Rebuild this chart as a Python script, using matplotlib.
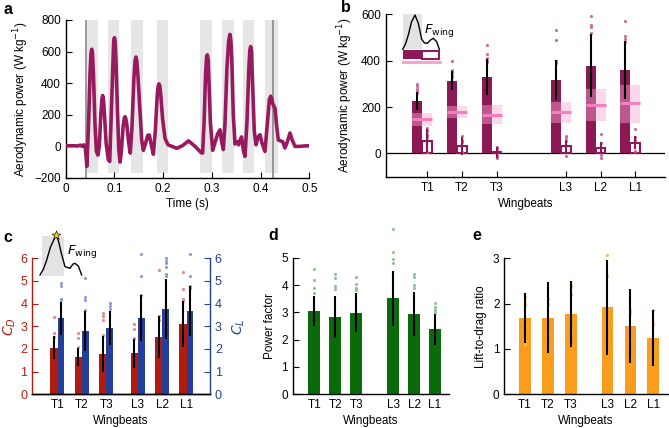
import numpy as np
import matplotlib
matplotlib.use("Agg")
from matplotlib import pyplot as plt
from matplotlib.patches import Rectangle

plt.rcParams["font.family"] = ["Liberation Sans", "DejaVu Sans"]
plt.rcParams["font.size"] = 8.5
plt.rcParams["axes.linewidth"] = 1.0
plt.rcParams["xtick.direction"] = "in"
plt.rcParams["ytick.direction"] = "in"
plt.rcParams["xtick.major.size"] = 4
plt.rcParams["ytick.major.size"] = 4

W, H = 669, 428

# ---- panel a: power trace ----
time_s = [0, 0.015, 0.025, 0.030, 0.034, 0.037, 0.040, 0.0435, 0.047, 0.050, 0.052, 0.0534,
          0.055, 0.057, 0.060, 0.063, 0.066, 0.069, 0.072, 0.0745, 0.0759, 0.0775, 0.079,
          0.083, 0.0875, 0.0903, 0.094, 0.097, 0.0985, 0.100, 0.1015, 0.103, 0.106, 0.109,
          0.1115, 0.114, 0.118, 0.1205, 0.1218, 0.123, 0.125, 0.129, 0.1325, 0.136, 0.140,
          0.1425, 0.1443, 0.146, 0.148, 0.152, 0.156, 0.1594, 0.163, 0.1685, 0.1717, 0.175,
          0.180, 0.184, 0.188, 0.190, 0.1915, 0.193, 0.195, 0.199, 0.204, 0.210, 0.218,
          0.228, 0.240, 0.252, 0.258, 0.2655, 0.272, 0.278, 0.281, 0.284, 0.287, 0.289,
          0.2907, 0.2925, 0.294, 0.297, 0.3017, 0.306, 0.312, 0.3167, 0.320, 0.3236, 0.327,
          0.331, 0.3345, 0.3372, 0.339, 0.341, 0.344, 0.3475, 0.352, 0.355, 0.358, 0.361,
          0.365, 0.368, 0.372, 0.376, 0.378, 0.3797, 0.3815, 0.383, 0.387, 0.3906, 0.395,
          0.3988, 0.403, 0.409, 0.414, 0.418, 0.4207, 0.423, 0.425, 0.4296, 0.433, 0.4364,
          0.4454, 0.450, 0.455, 0.4603, 0.465, 0.4706, 0.480, 0.490, 0.500]
power_w = [4, 4, 3, 8, 0, 10, 0, -126, 150, 470, 590, 615,
           590, 450, 150, -30, -55, 0, 200, 305, 322, 300, 230,
           20, -85, -95, 250, 550, 665, 688, 665, 560, 250, -20,
           -100, -40, 130, 182, 188, 180, 150, 30, -42, 120, 430,
           545, 566, 540, 460, 250, 40, -25, 10, 70, 72, 20,
           -50, 100, 330, 385, 396, 385, 330, 170, 50, 10, 0,
           -12, 5, 35, 20, 0, -20, -40, -42, 150, 450, 560,
           580, 550, 420, 150, -25, 20, 80, 105, 30, -20, 150,
           500, 670, 709, 670, 540, 200, 15, 30, 10, 40, 60,
           -30, -63, 150, 500, 610, 632, 600, 450, 100, 10, 60,
           74, 20, -32, 150, 295, 318, 300, 270, 240, 130, 40,
           30, -10, 30, 85, 40, 0, 0, 3, 4]
stroke_start = [0.0445, 0.0862, 0.134, 0.188, 0.276, 0.321, 0.363, 0.410]
stroke_end = [0.0657, 0.110, 0.158, 0.211, 0.300, 0.346, 0.386, 0.435]
trial_marks = [0.042, 0.426]

# ---- shared categories ----
wingbeats = ["T1", "T2", "T3", "L3", "L2", "L1"]

# ---- panel b ----
power_total = [225, 314, 329, 317, 379, 360]
power_total_err = [38, 42, 78, 88, 134, 124]
power_mid = [147, 180, 166, 181, 210, 217]
power_mid_lo = [119, 154, 126, 133, 140, 133]
power_mid_hi = [176, 204, 207, 224, 279, 297]
power_end = [54, 33, 5, 33, 24, 47]
power_end_err = [50, 40, 25, 25, 25, 28]
power_total_dots = [[298, 290, 280, 270, 262], [398, 360, 350, 340, 330],
                    [466, 430, 410, 400, 395], [532, 490, 400, 390],
                    [592, 555, 545, 520], [572, 505, 495, 480]]
power_end_dots = [[110, 95, 80, 70, 5], [75, 60, 50, 5], [30, 20, -10, -20],
                  [75, 65, 55, -10], [85, 45, -5, -20], [105, 70, 60, 10]]

# ---- panel c ----
cd = [2.06, 1.65, 1.78, 1.81, 2.53, 3.10]
cd_err = [0.5, 0.4, 0.8, 0.65, 0.92, 1.0]
cl = [3.35, 2.78, 2.94, 3.37, 3.76, 3.66]
cl_err = [0.72, 0.88, 0.75, 1.02, 1.33, 1.1]
cd_dots = [[3.4, 2.7, 2.55], [2.7, 2.5, 2.1], [3.6, 3.45, 3.3, 2.6],
           [3.1, 2.9, 2.5], [5.5, 3.45, 3.3], [5.4, 4.65, 4.2, 4.1]]
cl_dots = [[4.9, 4.8, 4.2, 4.15], [5.15, 4.3, 4.15, 3.7], [4.05, 3.9, 3.75],
           [6.2, 5.2, 4.4], [6.0, 5.9, 5.8, 5.6, 5.3, 5.2], [6.2, 5.2, 4.8, 4.7]]

# ---- panel d ----
power_factor = [3.05, 2.82, 2.99, 3.51, 2.93, 2.38]
power_factor_err = [0.55, 0.76, 0.7, 1.0, 0.8, 0.56]
power_factor_dots = [[4.6, 4.2, 3.9, 3.7], [4.4, 4.25, 3.95, 3.85], [4.3, 4.05, 3.9, 3.8],
                     [6.05, 5.2, 4.95, 4.8], [4.4, 4.3, 4.0, 3.9], [3.35, 3.2, 3.1, 3.0]]

# ---- panel e ----
lift_drag = [1.68, 1.69, 1.77, 1.92, 1.51, 1.24]
lift_drag_err = [0.55, 0.78, 0.72, 1.05, 0.82, 0.62]
lift_drag_dots = [[2.15, 2.0, 1.5, 1.2, 1.1], [2.1, 2.0, 1.3, 1.0], [2.4, 2.2, 1.4, 1.1],
                  [3.08, 2.6, 1.6, 1.0], [1.85, 1.8, 1.2, 0.8], [1.87, 1.55, 1.0, 0.7]]

MAGENTA = "#981a5e"
DARK = "#8c1856"
PINK = "#f57ebf"
PINK_BOX = "#f7a8d2"
RED = "#b21c0e"
BLUE = "#233f9b"
GREEN = "#0b6b0b"
ORANGE = "#fb9d1c"


def px_axes(fig, left, top, right, bottom):
    return fig.add_axes([left / W, 1 - bottom / H, (right - left) / W, (bottom - top) / H])


def clean(ax, right=False):
    ax.spines["top"].set_visible(False)
    if not right:
        ax.spines["right"].set_visible(False)


def dots(ax, xs, groups, color, size=5):
    for x, vals in zip(xs, groups):
        ax.scatter([x] * len(vals), vals, s=size, color=color, lw=0, zorder=4, clip_on=False)


fig = plt.figure(figsize=(W / 100, H / 100), dpi=100)

# ================= a =================
ax = px_axes(fig, 65.7, 20, 309.3, 178)
for s, e in zip(stroke_start, stroke_end):
    ax.axvspan(s, e, ymin=0.03, ymax=1, color="#e6e6e6", lw=0, zorder=0)
for t in trial_marks:
    ax.axvline(t, color="#808080", lw=1.1, zorder=1)
ax.plot(time_s, power_w, color=MAGENTA, lw=2.6, solid_joinstyle="round", zorder=3)
ax.set_xlim(0, 0.5)
ax.set_ylim(-200, 800)
ax.set_xticks([0, 0.1, 0.2, 0.3, 0.4, 0.5])
ax.set_xticklabels(["0", "0.1", "0.2", "0.3", "0.4", "0.5"])
ax.set_yticks(range(-200, 801, 200))
ax.set_xlabel("Time (s)", labelpad=2)
ax.set_ylabel("Aerodynamic power (W kg$^{-1}$)", labelpad=2)
clean(ax)

# ================= b =================
ax = px_axes(fig, 385.7, 14.3, 665, 176.7)
pos_b = np.array([1, 2, 3, 5, 6, 7])
ax.bar(pos_b - 0.285, power_total, width=0.29, color=DARK, zorder=2)
ax.errorbar(pos_b - 0.285, power_total, yerr=power_total_err, fmt="none",
            ecolor="black", elinewidth=1.5, zorder=5)
dots(ax, pos_b - 0.285, power_total_dots, "#c76a9e", 5)
mid_lo = np.array(power_mid_lo)
ax.bar(pos_b - 0.43, np.array(power_mid_hi) - mid_lo, bottom=mid_lo, width=0.575,
       align="edge", color=PINK_BOX, alpha=0.45, lw=0, zorder=3)
ax.hlines(power_mid, pos_b - 0.43, pos_b + 0.145, color=PINK, lw=2.2, zorder=4)
ax.bar(pos_b, power_end, width=0.28, facecolor="white", edgecolor=DARK, lw=1.5, zorder=2)
ax.errorbar(pos_b, power_end, yerr=power_end_err, fmt="none",
            ecolor=DARK, elinewidth=1.5, zorder=5)
dots(ax, pos_b, power_end_dots, "#c76a9e", 5)
ax.axhline(0, color="black", lw=0.9, zorder=1)
ax.set_xlim(-0.2, 7.86)
ax.set_ylim(-100, 600)
ax.set_yticks([0, 200, 400, 600])
ax.set_xticks(pos_b)
ax.set_xticklabels(wingbeats)
ax.set_xlabel("Wingbeats", labelpad=3)
ax.set_ylabel("Aerodynamic power (W kg$^{-1}$)", labelpad=4)
clean(ax)

# inset legend for b, drawn in pixel coords
ins = px_axes(fig, 398, 10, 450, 68)
ins.set_xlim(398, 450)
ins.set_ylim(68, 10)
ins.axis("off")
ins.add_patch(Rectangle((403.3, 14.3), 18.4, 35, color="#e3e3e3", lw=0))
force_x = [402.7, 405.5, 408.3, 411.5, 415, 418.3, 421.7, 424.5, 427.3, 430.5, 433.3, 436.7, 439.3]
force_y = [49.3, 44, 35, 22, 15, 23.3, 39.3, 43, 43.3, 40, 38.3, 41.7, 49.3]
ins.plot(force_x, force_y, color="black", lw=1.0)
ins.text(424, 31, "$F_\\mathrm{wing}$", fontsize=9.5, va="center", ha="left")
ins.add_patch(Rectangle((402.7, 50), 19, 9.3, color=DARK, lw=0))
ins.add_patch(Rectangle((421.7, 50.6), 17.4, 8.1, facecolor="white", edgecolor=DARK, lw=1.4))
ins.plot([402.7, 440], [62, 62], color="#f9a3d0", lw=2.2)

# ================= c =================
ax = px_axes(fig, 32.3, 258.3, 210, 394.3)
pos_c = np.array([0, 1, 2, 3.3, 4.3, 5.3])
ax.bar(pos_c - 0.15, cd, width=0.3, color=RED, zorder=2)
ax.errorbar(pos_c - 0.15, cd, yerr=cd_err, fmt="none", ecolor="black", elinewidth=1.5, zorder=5)
dots(ax, pos_c - 0.15, cd_dots, "#e08a82", 5)
ax.set_xlim(-1.04, 6.26)
ax.set_ylim(0, 6)
ax.set_yticks(range(0, 7))
ax.set_xticks(pos_c)
ax.set_xticklabels(wingbeats)
ax.set_xlabel("Wingbeats", labelpad=3)
ax.set_ylabel("$C_D$", color=RED, fontsize=10, labelpad=2)
ax.tick_params(axis="y", colors=RED, labelsize=9)
ax.spines["left"].set_color(RED)
ax.spines["top"].set_visible(False)
ax.spines["right"].set_visible(False)
ax2 = ax.twinx()
ax2.bar(pos_c + 0.14, cl, width=0.28, color=BLUE, zorder=2)
ax2.errorbar(pos_c + 0.14, cl, yerr=cl_err, fmt="none", ecolor="black", elinewidth=1.5, zorder=5)
dots(ax2, pos_c + 0.14, cl_dots, "#8d9bd3", 5)
ax2.set_ylim(0, 6)
ax2.set_yticks(range(0, 7))
ax2.set_ylabel("$C_L$", color=BLUE, fontsize=10, labelpad=6)
ax2.tick_params(axis="y", colors=BLUE, labelsize=9)
ax2.spines["right"].set_color(BLUE)
ax2.spines["left"].set_visible(False)
ax2.spines["top"].set_visible(False)

ins = px_axes(fig, 36, 228, 90, 280)
ins.set_xlim(36, 90)
ins.set_ylim(280, 228)
ins.axis("off")
ins.add_patch(Rectangle((41.7, 236), 22.3, 39.7, color="#e3e3e3", lw=0))
peak_x = [40, 43.5, 46.7, 50.5, 56, 58.5, 61, 65, 70, 73, 75, 78.3, 81.7]
peak_y = [275, 269, 260, 247, 235, 241, 252, 266.7, 268.3, 264, 263.3, 266, 275]
ins.plot(peak_x, peak_y, color="black", lw=1.0)
ins.scatter([peak_x[4]], [peak_y[4]], marker="*", s=45, color="#f5d21c",
            edgecolor="black", lw=0.4, zorder=5)
ins.text(67, 252, "$F_\\mathrm{wing}$", fontsize=9.5, va="center", ha="left")

# ================= d =================
ax = px_axes(fig, 292.7, 257.7, 449.3, 394.3)
pos_d = np.array([0, 1, 2, 3.75, 4.75, 5.75])
ax.bar(pos_d, power_factor, width=0.56, color=GREEN, zorder=2)
ax.errorbar(pos_d, power_factor, yerr=power_factor_err, fmt="none",
            ecolor="black", elinewidth=1.5, zorder=5)
dots(ax, pos_d, power_factor_dots, "#8fc08f", 5)
ax.set_xlim(-1.03, 6.43)
ax.set_ylim(0, 5)
ax.set_xticks(pos_d)
ax.set_xticklabels(wingbeats)
ax.set_xlabel("Wingbeats", labelpad=3)
ax.set_ylabel("Power factor", labelpad=4)
clean(ax)

# ================= e =================
ax = px_axes(fig, 504.3, 258.3, 668, 394.3)
pos_e = np.array([0, 1, 2, 3.6, 4.6, 5.6])
ax.bar(pos_e, lift_drag, width=0.51, color=ORANGE, zorder=2)
ax.errorbar(pos_e, lift_drag, yerr=lift_drag_err, fmt="none",
            ecolor="black", elinewidth=1.5, zorder=5)
dots(ax, pos_e, lift_drag_dots, "#f6b860", 5)
ax.set_xlim(-0.9, 6.24)
ax.set_ylim(0, 3)
ax.set_xticks(pos_e)
ax.set_xticklabels(wingbeats)
ax.set_xlabel("Wingbeats", labelpad=3)
ax.set_ylabel("Lift-to-drag ratio", labelpad=4)
clean(ax)

# panel letters
for letter, x, y in [("a", 4, 10), ("b", 341, 8), ("c", 3, 238), ("d", 268, 235), ("e", 472, 235)]:
    fig.text(x / W, 1 - y / H, letter, fontsize=11.5, fontweight="bold", va="center", ha="left")

fig.savefig("out.png", dpi=100)
